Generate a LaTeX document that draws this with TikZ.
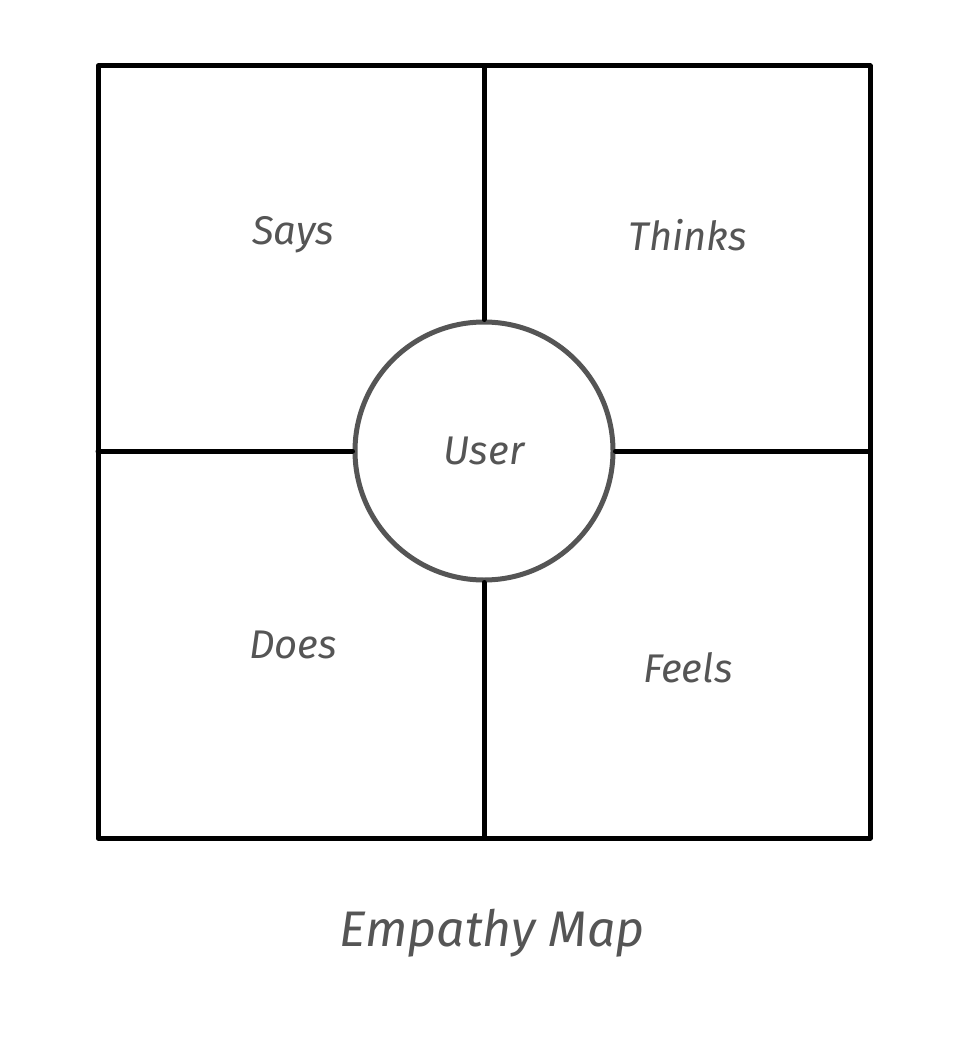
\documentclass[tikz,border=0pt]{standalone}
\usepackage{fontspec}
\setmainfont{Fira Sans}
\definecolor{txt}{HTML}{555555}
\begin{document}
\begin{tikzpicture}[x=1pt,y=-1pt,
  frame/.style={line width=5pt,black,line cap=round,line join=round},
  lbl/.style={text=txt,font=\itshape\fontsize{40}{48}\selectfont},
]
\useasboundingbox (0,0) rectangle (966,1040);
\coordinate (tl) at (98,66); \coordinate (br) at (870,838);
\coordinate (tm) at (484,66); \coordinate (bm) at (484,838);
\coordinate (lm) at (98,451); \coordinate (rm) at (870,451);
\draw[frame] (tl) rectangle (br);
\node[circle,draw=txt,line width=5pt,minimum size=258pt,inner sep=0pt] (u) at (484,451) {};
\draw[frame] (tm) -- (u.north);
\draw[frame] (u.south) -- (bm);
\draw[frame] (lm) -- (u.west);
\draw[frame] (u.east) -- (rm);
\node[lbl] (says) at (293,235) {Says};
\node[lbl] (thinks) at (688,235) {Thinks};
\node[lbl] at (u.center) {User};
\node[lbl] (does) at (293,645) {Does};
\node[lbl] (feels) at (688,668) {Feels};
\node[lbl,font=\itshape\fontsize{50}{60}\selectfont] (title) at (492,933) {Empathy Map};
\end{tikzpicture}
\end{document}
